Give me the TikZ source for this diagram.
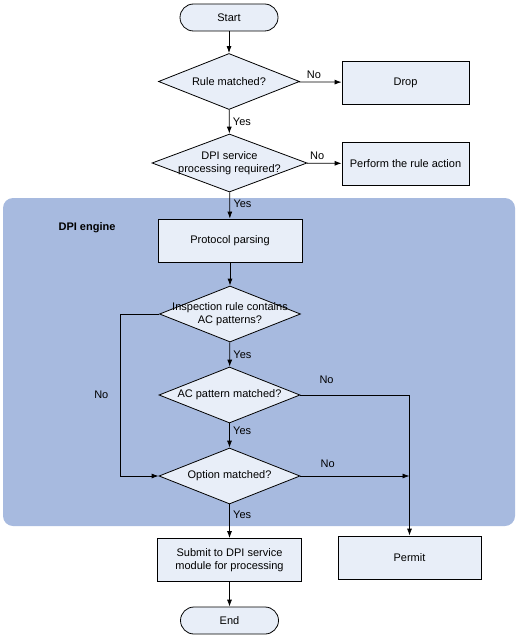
\documentclass[tikz,border=0pt]{standalone}
\usepackage{fontspec}
\setmainfont{Liberation Sans}
\usepackage{xcolor}
\usetikzlibrary{shapes.geometric, arrows.meta}
\definecolor{boxfill}{RGB}{232,238,248}
\definecolor{engine}{RGB}{167,186,223}

\begin{document}
\begin{tikzpicture}[x=1pt, y=-1pt, font=\fontsize{11}{13}\selectfont, line width=0.8pt,
        >={Latex[length=7pt, width=5pt]},
        terminal/.style={draw, fill=boxfill, rounded corners=13.5pt, minimum width=98pt, minimum height=27pt},
        process/.style={draw, fill=boxfill, minimum width=#1, minimum height=43pt, align=center},
        process/.default=143pt,
        decision/.style={diamond, draw, fill=boxfill, minimum width=141pt, minimum height=56pt, inner sep=0pt}]
        \useasboundingbox (0, 0) rectangle (517, 639);
        \fill [engine, rounded corners=10pt] (3, 198) rectangle (515, 526);
        \node (engine title) [font=\fontsize{11}{13}\selectfont\bfseries] at (87, 228) {DPI engine};

        \node (start) [terminal] at (229, 17.5) {Start};
        \node (rule) [decision, label={center:Rule matched?}] at (229, 81.5) {};
        \node (drop) [process=127pt] at (405.5, 82.5) {Drop};
        \node (dpi) [decision, minimum width=155pt, minimum height=58pt, label={[align=center]center:DPI service\\processing required?}] at (229.5, 163) {};
        \node (action) [process=127pt] at (405.5, 163.5) {Perform the rule action};

        \node (parse) [process=144pt] at (230, 240.5) {Protocol parsing};
        \node (inspect) [decision, label={[align=center]center:Inspection rule contains\\AC patterns?}] at (230, 314) {};
        \node (ac match) [decision, label={center:AC pattern matched?}] at (229.5, 395) {};
        \node (option) [decision, label={center:Option matched?}] at (229.5, 476) {};

        \node (submit) [process=144pt] at (229.5, 560) {Submit to DPI service\\module for processing};
        \node (permit) [process=143pt] at (409.5, 557.5) {Permit};
        \node (end) [terminal] at (229.5, 620.5) {End};

        \draw [->] (start) -- (rule);
        \draw [->] (rule) -- node [pos=0.35, above] {No} (drop);
        \draw [->] (rule) -- node [midway, right] {Yes} (dpi);
        \draw [->] (dpi) -- node [pos=0.3, above] {No} (action);
        \draw [->] (dpi) -- node [pos=0.45, right] {Yes} (parse);
        \draw [->] (parse) -- (inspect);
        \draw [->] (inspect.west) -- ++(-39, 0) |- node [pos=0.25, left=8pt] {No} (option.west);
        \draw [->] (inspect) -- node [midway, right] {Yes} (ac match);
        \draw [->] (ac match.east) -| node [pos=0.12, above=8pt] {No} (permit.north);
        \draw [->] (ac match) -- node [pos=0.3, right] {Yes} (option);
        \draw [->] (option.east) -- node [pos=0.25, above=5pt] {No} (option.east -| permit.north);
        \draw [->] (option) -- node [pos=0.3, right] {Yes} (submit);
        \draw [->] (submit) -- (end);
    \end{tikzpicture}
\end{document}
